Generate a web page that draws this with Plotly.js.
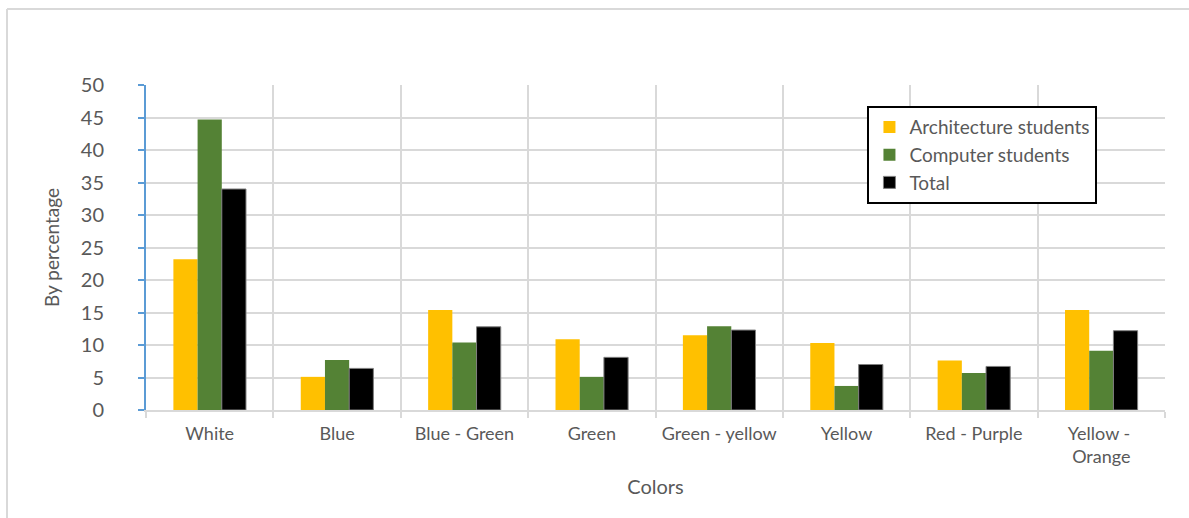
<!DOCTYPE html>
<html>
<head>
<meta charset="utf-8">
<script src="https://cdn.plot.ly/plotly-3.0.1.min.js"></script>
<style>
  html, body { margin: 0; padding: 0; background: #fff; }
  #chart { width: 1189px; height: 518px; }
</style>
</head>
<body>
<div id="chart"></div>
<script>
// Colour preference by student group (percent)
const categories = ['White', 'Blue', 'Blue - Green', 'Green', 'Green - yellow', 'Yellow', 'Red - Purple', 'Yellow - <br>Orange'];
const architecture = [23.2, 5.1, 15.4, 10.9, 11.5, 10.3, 7.6, 15.4];
const computer = [44.7, 7.7, 10.4, 5.1, 12.9, 3.7, 5.7, 9.1];
const total = [34.0, 6.4, 12.8, 8.1, 12.3, 7.0, 6.7, 12.2];
const yTicks = [0, 5, 10, 15, 20, 25, 30, 35, 40, 45, 50];

const font = 'Lato, "Open Sans", sans-serif';
const textGray = '#595959';
const gridGray = '#d9d9d9';

const traces = [
  { name: 'Architecture students', y: architecture, color: '#FFC000', line: 0 },
  { name: 'Computer students', y: computer, color: '#548235', line: 0 },
  { name: 'Total', y: total, color: '#000000', line: 1 }
].map(s => ({
  type: 'bar',
  name: s.name,
  x: categories,
  y: s.y,
  marker: { color: s.color, line: { color: '#7f7f7f', width: s.line } },
  hoverinfo: 'x+y+name'
}));

const layout = {
  width: 1189,
  height: 518,
  margin: { l: 146, r: 24, t: 85, b: 108 },
  paper_bgcolor: '#ffffff',
  plot_bgcolor: '#ffffff',
  font: { family: font, color: textGray, size: 18 },
  barmode: 'group',
  bargap: 0.43,
  bargroupgap: 0,
  showlegend: true,
  legend: {
    x: 0.708, y: 0.935, xanchor: 'left', yanchor: 'top',
    bgcolor: '#ffffff', bordercolor: '#000000', borderwidth: 2,
    font: { family: font, size: 19, color: textGray },
    tracegroupgap: 0
  },
  xaxis: {
    type: 'category',
    tickson: 'boundaries',
    showgrid: true,
    gridcolor: gridGray,
    gridwidth: 2,
    showline: true,
    linecolor: gridGray,
    linewidth: 2,
    ticks: 'outside',
    ticklen: 6,
    tickcolor: gridGray,
    tickwidth: 2,
    ticklabelstandoff: 6,
    tickfont: { family: font, size: 18, color: textGray },
    title: { text: 'Colors', font: { family: font, size: 20, color: textGray }, standoff: 14 },
    fixedrange: true
  },
  yaxis: {
    range: [0, 50],
    tickvals: yTicks,
    ticktext: yTicks.map(String),
    showgrid: true,
    gridcolor: gridGray,
    gridwidth: 2,
    zeroline: false,
    showline: true,
    linecolor: '#5B9BD5',
    linewidth: 2,
    ticks: 'outside',
    ticklen: 6,
    tickcolor: '#5B9BD5',
    tickwidth: 2,
    ticklabelstandoff: 30,
    tickfont: { family: font, size: 20, color: textGray },
    title: { text: 'By percentage', font: { family: font, size: 19, color: textGray }, standoff: 16 },
    fixedrange: true
  },
  shapes: [
    // outer chart frame (top and left edges)
    { type: 'line', xref: 'paper', yref: 'paper',
      x0: (7 - 146) / 1019, x1: 1.05, y0: (410 - 9) / 325, y1: (410 - 9) / 325,
      line: { color: gridGray, width: 2 } },
    { type: 'line', xref: 'paper', yref: 'paper',
      x0: (7 - 146) / 1019, x1: (7 - 146) / 1019, y0: (410 - 9) / 325, y1: -0.5,
      line: { color: gridGray, width: 2 } }
  ]
};

Plotly.newPlot('chart', traces, layout, { displayModeBar: false, staticPlot: true });
</script>
</body>
</html>
